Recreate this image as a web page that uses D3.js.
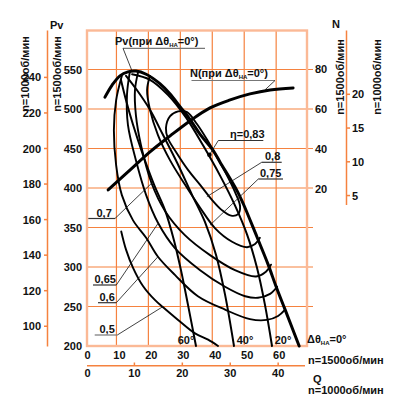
<!DOCTYPE html>
<html><head><meta charset="utf-8">
<script src="https://cdn.jsdelivr.net/npm/d3@7"></script>
<style>
body{margin:0;background:#fff;}
svg text{font-family:"Liberation Sans",Arial,sans-serif;font-weight:bold;fill:#111;font-size:11px;}
</style></head><body>
<svg id="c" width="394" height="396"></svg>
<script>
// ---------- data (Q and Pv at n=1500 rpm) ----------
const qTicks1500 = [0,10,20,30,40,50,60];
const qTicks1000 = [0,10,20,30,40];
const pvTicks1500 = [200,250,300,350,400,450,500,550];
const pvTicks1000 = [100,120,140,160,180,200,220,240];
const nTicks1500 = [20,40,60,80];
const nTicks1000 = [5,10,15,20];
const qGrid = [10,20,30,40,50,60];
const pvGrid = [250,300,350,400,450,500,550];

// pressure curve, guide vane angle 0°
const pv0 = [[6.4,515],[8.6,530],[11.1,542],[13.6,547],[16.1,548],[19.3,544],[23.6,532],[26.8,519],[29.9,503],[33.0,487],[36.2,468],[40.2,448],[42.4,433],[47.7,397],[49.6,381],[54.0,338],[57.5,303],[60.0,275],[62.8,246],[67.2,200]];
const pv20 = [[14.9,544],[20.5,537],[26.1,518],[31.8,489],[37.1,454],[42.4,416],[47.1,378],[50.9,341],[54.0,299],[56.5,252],[58.7,200]];
const pv40 = [[13.0,542],[16.4,524],[20.5,499],[24.6,467],[29.0,432],[33.7,391],[37.7,357],[41.2,315],[44.0,265],[46.8,200]];
const pv60 = [[11.4,537],[13.0,511],[15.2,480],[18.3,442],[21.8,404],[25.2,372],[28.0,334],[30.2,296],[32.4,252],[34.9,200]];
// power at 0° (Q, N at 1500 rpm)
const power0 = [[7.4,19.7],[14.3,29.7],[20.5,38.7],[26.8,46.7],[33.0,54.2],[39.3,60.7],[45.6,64.7],[51.8,67.7],[58.1,69.7],[65.3,70.7]];
// efficiency contours
const eta80 = [[25.5,476],[26.8,491],[29.3,497],[32.1,496],[35.2,481],[38.4,461],[41.5,439],[44.6,416],[47.1,395],[48.7,377],[48.1,367],[45.9,365],[43.0,372],[39.9,385],[36.2,404],[32.4,423],[28.6,446],[26.1,463]];
const eta75 = [[20.5,542],[19.6,524],[20.5,499],[23.0,467],[26.8,435],[31.5,404],[36.2,375],[40.9,349],[46.2,332],[50.9,325],[53.4,329],[54.9,337]];
const eta70 = [[16.8,547],[15.8,524],[16.1,492],[17.7,454],[21.0,406],[25.2,371],[31.5,340],[39.3,315],[47.1,296],[53.7,288],[56.8,294],[58.4,303]];
const eta65 = [[14.2,547],[13.3,518],[13.6,480],[16.1,435],[19.3,391],[23.0,356],[28.3,324],[36.2,296],[44.0,275],[50.3,263],[54.3,261],[58.1,266],[60.3,275]];
const eta60 = [[11.7,542],[9.9,511],[9.2,473],[9.9,429],[11.7,391],[15.2,359],[19.3,337],[23.0,313],[28.3,290],[35.5,263],[44.0,246],[51.8,234],[57.1,233],[60.6,238],[62.8,246]];
const eta50 = [[11.5,345],[13.0,322],[15.2,299],[18.3,276],[22.1,258],[24.6,249],[29.3,233],[34.6,216],[38.7,208],[41.8,200]];
// label anchor points on curves (Q, Pv) and texts
const etaMax = [39.1,442];
const labelTexts = ["η=0,83","0,8","0,75","0,7","0,65","0,6","0,5"];
const labelAnchors = [[39.1,442],[38.3,389],[39.3,353],[21.0,406],[23.0,355],[23.0,313],[24.6,250]];
const angleTexts = ["60°","40°","20°"];
const pvLabelAnchor = [14.8,549];
const nLabelAnchor = [56.5,69.7];

// ---------- layout ----------
const svg = d3.select("#c");
const L=87, R=307, T=30.5, B=346;
const x = d3.scaleLinear([0,70],[84.5,308.1]);
const y = d3.scaleLinear([200,600],[346,30]);
const yN = d3.scaleLinear([0,100],[229.3,29.3]);
const x1000 = d3.scaleLinear([0,70*2/3],[84.5,308.1]);
const yP1000 = d3.scaleLinear([200*4/9,600*4/9],[346,30]);
const yN1000 = d3.scaleLinear([0,100*8/27],[229.3,29.3]);
const GRID="#f5823f", FRAME="#fbb996";

// gridlines
svg.append("g").selectAll("line").data(qGrid).join("line")
  .attr("x1",d=>x(d)).attr("x2",d=>x(d)).attr("y1",T).attr("y2",B)
  .attr("stroke",GRID).attr("stroke-width",1.2);
svg.append("g").selectAll("line").data(pvGrid).join("line")
  .attr("x1",L).attr("x2",313).attr("y1",d=>y(d)).attr("y2",d=>y(d))
  .attr("stroke",GRID).attr("stroke-width",1.2);
svg.append("rect").attr("x",L).attr("y",T).attr("width",R-L).attr("height",B-T)
  .attr("fill","none").attr("stroke",FRAME).attr("stroke-width",2.4);

// left Pv(1500) labels
svg.append("g").selectAll("text").data(pvTicks1500).join("text")
  .attr("x",82).attr("y",d=>y(d)+4).attr("text-anchor","end").text(d=>d);
// left outer axis Pv(1000)
svg.append("line").attr("x1",47.5).attr("x2",47.5).attr("y1",T).attr("y2",B+0.5).attr("stroke",GRID).attr("stroke-width",1.5);
const gl = svg.append("g").selectAll("g").data(pvTicks1000).join("g");
gl.append("line").attr("x1",44).attr("x2",47.5).attr("y1",d=>yP1000(d)).attr("y2",d=>yP1000(d)).attr("stroke",GRID).attr("stroke-width",1.5);
gl.append("text").attr("x",41).attr("y",d=>yP1000(d)+4).attr("text-anchor","end").text(d=>d);

// right N(1500) labels
svg.append("g").selectAll("text").data(nTicks1500).join("text")
  .attr("x",315).attr("y",d=>yN(d)+4).text(d=>d);
// right outer axis N(1000)
svg.append("line").attr("x1",346.5).attr("x2",346.5).attr("y1",T).attr("y2",205).attr("stroke",GRID).attr("stroke-width",1.5);
const gr = svg.append("g").selectAll("g").data(nTicks1000).join("g");
gr.append("line").attr("x1",346.5).attr("x2",350).attr("y1",d=>yN1000(d)).attr("y2",d=>yN1000(d)).attr("stroke",GRID).attr("stroke-width",1.5);
gr.append("text").attr("x",352).attr("y",d=>yN1000(d)+4).text(d=>d);

// bottom Q(1500) labels
svg.append("g").selectAll("text").data(qTicks1500).join("text")
  .attr("x",d=>x(d)+3).attr("y",358.5).attr("text-anchor","middle").text(d=>d);
// bottom Q(1000) axis
svg.append("line").attr("x1",L).attr("x2",305).attr("y1",365.7).attr("y2",365.7).attr("stroke",GRID).attr("stroke-width",1.5);
const gb = svg.append("g").selectAll("g").data(qTicks1000.filter(d=>d>0)).join("g");
gb.append("line").attr("x1",d=>x1000(d)+2).attr("x2",d=>x1000(d)+2).attr("y1",362.5).attr("y2",365.7).attr("stroke",GRID).attr("stroke-width",1.5);
svg.append("g").selectAll("text").data(qTicks1000).join("text")
  .attr("x",d=>d===0?87.5:x1000(d)+2).attr("y",377).attr("text-anchor","middle").text(d=>d);

// axis titles
svg.append("text").attr("x",50).attr("y",29).text("Pv");
svg.append("text").attr("x",332).attr("y",28).text("N");
function vtext(cx,cy,t){
  svg.append("text").attr("transform",`translate(${cx},${cy}) rotate(-90)`)
    .attr("text-anchor","middle").attr("dominant-baseline","central").text(t);
}
vtext(25,74,"n=1000об/мин");
vtext(57,74,"n=1500об/мин");
vtext(340,77,"n=1500об/мин");
vtext(377,77,"n=1000об/мин");
svg.append("text").attr("x",308).attr("y",364).text("n=1500об/мин");
svg.append("text").attr("x",313).attr("y",383).text("Q");
svg.append("text").attr("x",308).attr("y",394).text("n=1000об/мин");

// curves
const line = d3.line().x(d=>x(d[0])).y(d=>y(d[1])).curve(d3.curveCatmullRom.alpha(0.5));
const lineN = d3.line().x(d=>x(d[0])).y(d=>yN(d[1])).curve(d3.curveCatmullRom.alpha(0.5));
const lineC = d3.line().x(d=>x(d[0])).y(d=>y(d[1])).curve(d3.curveCatmullRomClosed.alpha(0.5));
const cg = svg.append("g").attr("fill","none").attr("stroke","#000").attr("stroke-linecap","round");
[eta75,eta70,eta65,eta60,eta50].forEach(c=>cg.append("path").attr("d",line(c)).attr("stroke-width",1.9));
cg.append("path").attr("d",lineC(eta80)).attr("stroke-width",1.9);
[pv20,pv40,pv60].forEach(c=>cg.append("path").attr("d",line(c)).attr("stroke-width",2));
cg.append("path").attr("d",line(pv0)).attr("stroke-width",3);
cg.append("path").attr("d",lineN(power0)).attr("stroke-width",3);

// efficiency labels with underline + leader
const labLayout = [
  {tx:230,ty:138,u1:218.3,u2:263.3,uy:140.5,end:"l"},
  {tx:265,ty:160,u1:261.7,u2:281.7,uy:162.3,end:"l"},
  {tx:260,ty:176.5,u1:258.3,u2:283,uy:179,end:"l"},
  {tx:96.5,ty:216.5,u1:88.3,u2:115,uy:218.5,end:"r"},
  {tx:94.5,ty:283,u1:93,u2:116.3,uy:285,end:"r"},
  {tx:99.5,ty:300.5,u1:98,u2:116.3,uy:302.7,end:"r"},
  {tx:99.5,ty:333,u1:94.7,u2:117.3,uy:335,end:"r"}
];
labelTexts.forEach((t,i)=>{
  const lo=labLayout[i], a=labelAnchors[i];
  svg.append("text").attr("x",lo.tx).attr("y",lo.ty).text(t);
  svg.append("line").attr("x1",lo.u1).attr("x2",lo.u2).attr("y1",lo.uy).attr("y2",lo.uy)
    .attr("stroke",i===6?"#777":"#333").attr("stroke-width",1.2);
  svg.append("line").attr("x1",lo.end==="l"?lo.u1:lo.u2).attr("y1",lo.uy)
    .attr("x2",x(a[0])).attr("y2",y(a[1])).attr("stroke","#111").attr("stroke-width",0.8);
});
svg.append("circle").attr("cx",x(etaMax[0])).attr("cy",y(etaMax[1])).attr("r",2.3).attr("fill","#000");

// Pv and N curve labels
function subLabel(x0,y0,head){
  const t=svg.append("text").attr("x",x0).attr("y",y0);
  t.append("tspan").text(head+"(при Δθ");
  t.append("tspan").attr("font-size",6).attr("dy",2).text("НА");
  t.append("tspan").attr("dy",-2).text("=0°)");
}
subLabel(115,45,"Pv");
svg.append("line").attr("x1",123).attr("x2",205).attr("y1",48.3).attr("y2",48.3).attr("stroke","#777").attr("stroke-width",1.2);
svg.append("line").attr("x1",123).attr("y1",48.3).attr("x2",x(pvLabelAnchor[0])).attr("y2",y(pvLabelAnchor[1])).attr("stroke","#111").attr("stroke-width",0.8);
subLabel(190,77,"N");
svg.append("line").attr("x1",191.5).attr("x2",275).attr("y1",80.5).attr("y2",80.5).attr("stroke","#777").attr("stroke-width",1.2);
svg.append("line").attr("x1",275).attr("y1",80.5).attr("x2",x(nLabelAnchor[0])).attr("y2",yN(nLabelAnchor[1])).attr("stroke","#111").attr("stroke-width",0.8);

// angle labels
const angleX=[186,245,283];
angleTexts.forEach((t,i)=>svg.append("text").attr("x",angleX[i]).attr("y",344).attr("text-anchor","middle").text(t));
const t0=svg.append("text").attr("x",307).attr("y",343);
t0.append("tspan").text("Δθ");
t0.append("tspan").attr("font-size",6).attr("dy",2).text("НА");
t0.append("tspan").attr("dy",-2).text("=0°");
</script></body></html>
